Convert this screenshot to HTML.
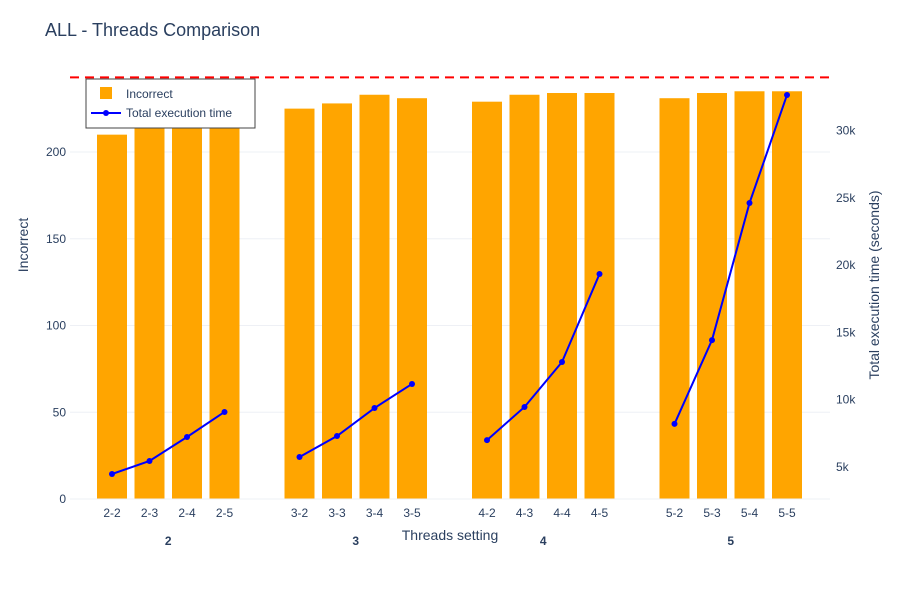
<!DOCTYPE html>
<html><head><meta charset="utf-8"><style>
body{margin:0;background:#fff;font-family:"Liberation Sans",sans-serif;}
svg text{font-family:"Liberation Sans",sans-serif;fill:#2a3f5f;}
</style></head><body>
<svg width="900" height="600" id="c">
<text x="45" y="36" font-size="18">ALL - Threads Comparison</text>
<g id="grid"></g><g id="bars"></g><g id="line"></g><g id="axes"></g>
</svg>
<script>
const groups=["2","3","4","5"];
const subs=["2","3","4","5"];
const incorrect=[210,218,220,219,225,228,233,231,229,233,234,234,231,234,235,235];
const execTime=[4480,5450,7230,9090,5740,7300,9380,11170,7000,9460,12800,19340,8200,14430,24610,32640];
const leftTicks=[0,50,100,150,200];
const rightTicks=[5000,10000,15000,20000,25000,30000];
const rightLabels=["5k","10k","15k","20k","25k","30k"];
const refLine=243;
const NS="http://www.w3.org/2000/svg";
function mk(p,t,a,txt){const e=document.createElementNS(NS,t);for(const k in a)e.setAttribute(k,a[k]);if(txt!==undefined)e.textContent=txt;document.getElementById(p).appendChild(e);return e;}
const yL=v=>499-v*1.735;
const yR=v=>467-(v-5000)*67.3/5000;
const xC=(g,s)=>112+37.5*(g*5+s);
leftTicks.forEach(t=>{
 if(t>0){const g=mk("grid","line",{x1:70,x2:830,y1:yL(t),y2:yL(t),stroke:"#eef0f5"});}
 const l=mk("axes","text",{x:66,y:yL(t)+4,"font-size":12,"text-anchor":"end"},t);
 
});
rightTicks.forEach((t,i)=>{
 const l=mk("axes","text",{x:836,y:yR(t)+4,"font-size":12},rightLabels[i]);
 
});
const zl=mk("axes","line",{x1:70,x2:830,y1:499,y2:499,stroke:"#eef0f5"});

let pts=[];
groups.forEach((g,gi)=>{subs.forEach((s,si)=>{
 const i=gi*4+si,x=xC(gi,si);
 const b=mk("bars","rect",{x:x-15,y:yL(incorrect[i]),width:30,height:499-yL(incorrect[i]),fill:"#ffa500"});
 
 const t=mk("axes","text",{x:x,y:517,"font-size":12,"text-anchor":"middle"},g+"-"+s);
 
 pts.push([x,yR(execTime[i])]);
});
 const gl=mk("axes","text",{x:xC(gi,1.5),y:545,"font-size":12,"font-weight":"bold","text-anchor":"middle",fill:"#000"},g);
 
});
for(let gi=0;gi<4;gi++){
 const p=mk("line","polyline",{points:pts.slice(gi*4,gi*4+4).map(q=>q.join(",")).join(" "),fill:"none",stroke:"#0000ff","stroke-width":2});
 
}
pts.forEach(q=>{const c=mk("line","circle",{cx:q[0],cy:q[1],r:3,fill:"#0000ff"});});
const rl=mk("line","line",{x1:70,x2:830,y1:yL(refLine),y2:yL(refLine),stroke:"#ff0000","stroke-width":2,"stroke-dasharray":"9,6"});

const xt=mk("axes","text",{x:450,y:540,"font-size":14,"text-anchor":"middle"},"Threads setting");

const yt=mk("axes","text",{x:0,y:0,"font-size":14,"text-anchor":"middle",transform:"translate(28,245) rotate(-90)"},"Incorrect");

const y2=mk("axes","text",{x:0,y:0,"font-size":14,"text-anchor":"middle",transform:"translate(879,285) rotate(-90)"},"Total execution time (seconds)");

const lg=mk("axes","rect",{x:86,y:79,width:169,height:49,fill:"#fff",stroke:"#444","stroke-width":1});

const ls=mk("axes","rect",{x:100,y:87,width:12,height:12,fill:"#ffa500"});

const lt1=mk("axes","text",{x:126,y:98,"font-size":12},"Incorrect");

const ll=mk("axes","line",{x1:91,x2:121,y1:113,y2:113,stroke:"#0000ff","stroke-width":2});

const lc=mk("axes","circle",{cx:106,cy:113,r:3,fill:"#0000ff"});

const lt2=mk("axes","text",{x:126,y:117,"font-size":12},"Total execution time");

</script>
</body></html>
